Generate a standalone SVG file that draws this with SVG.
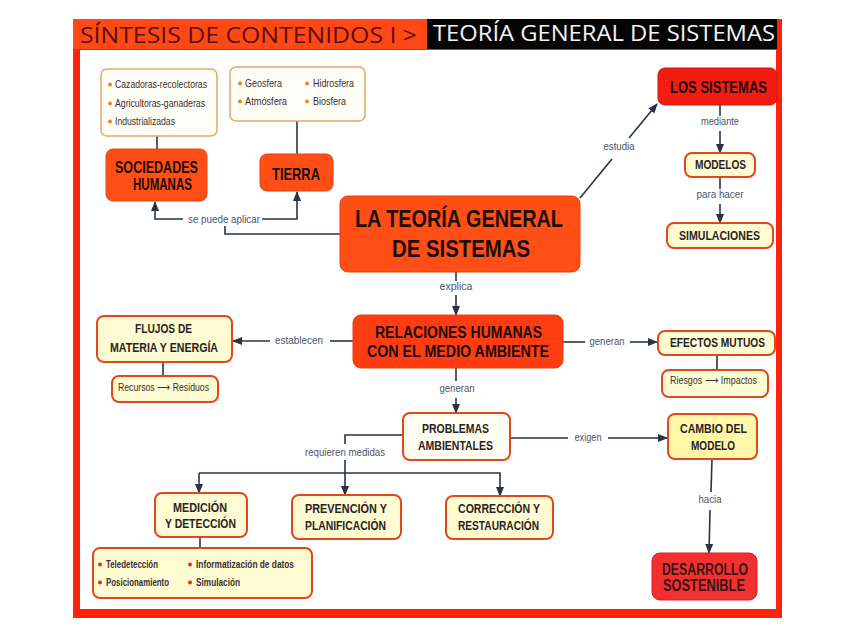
<svg xmlns="http://www.w3.org/2000/svg" width="848" height="636" viewBox="0 0 848 636">
<style>
.main{fill:#ff4e16;stroke:#e8400e;stroke-width:1}
.red{fill:#f21c12;stroke:#d81208;stroke-width:1}
.des{fill:#f23030;stroke:#d82020;stroke-width:1}
.yel{fill:#fffbd2;stroke:#e2481c;stroke-width:2}
.lst{fill:#fffef6;stroke:#eaa468;stroke-width:1.5}
.tb{font-family:"Liberation Sans",Arial,sans-serif;font-weight:bold;fill:#1c0c08;text-anchor:start}
.tm{font-family:"Liberation Sans",Arial,sans-serif;font-weight:bold;fill:#2a2222}
.tl{font-family:"Liberation Sans",Arial,sans-serif;fill:#4a5468;font-size:11px;text-anchor:middle}
.ts{font-family:"Liberation Sans",Arial,sans-serif;fill:#3a3030;font-size:10.5px}
.con{fill:none;stroke:#2b3245;stroke-width:1.6}
.arr{fill:none;stroke:#2b3245;stroke-width:1.6;marker-end:url(#ah)}
.bo{fill:#f08020}
.br{fill:#e82a10}
</style>
<defs>
<marker id="ah" markerUnits="userSpaceOnUse" markerWidth="10" markerHeight="10" viewBox="0 0 10 10" refX="9" refY="5" orient="auto">
<path d="M0,1 L10,5 L0,9 z" fill="#2b3245"/>
</marker>
</defs>
<rect x="0" y="0" width="848" height="636" fill="#ffffff"/>
<g id="frame">
<rect x="73" y="19" width="709" height="599" fill="#ff220a"/>
<rect x="73" y="19" width="354" height="30" fill="#ff4816"/>
<rect x="427" y="19" width="350" height="30" fill="#050505"/>
<rect x="80" y="50" width="696" height="559" fill="#ffffff"/>
<text x="80" y="43" font-family="'Open Sans','Noto Sans',sans-serif" font-size="22" fill="#5a0e0a" textLength="337" lengthAdjust="spacingAndGlyphs">SÍNTESIS DE CONTENIDOS I &gt;</text>
<text x="433" y="41" font-family="'Open Sans','Noto Sans',sans-serif" font-size="22" fill="#f4f4f4" textLength="342" lengthAdjust="spacingAndGlyphs">TEORÍA GENERAL DE SISTEMAS</text>
</g>
<g id="connectors">
<path class="con" d="M157,136 V149"/>
<path class="con" d="M297,121 V154"/>
<path class="con" d="M340,234 H225 V226"/>
<path class="arr" d="M183,219 H155 V202"/>
<path class="arr" d="M262,219 H297 V192"/>
<text class="tl" x="224" y="223" textLength="72" lengthAdjust="spacingAndGlyphs">se puede aplicar</text>
<path class="con" d="M580,198 L612,159"/>
<path class="arr" d="M629,138 L657,104"/>
<text class="tl" x="619" y="150" textLength="31" lengthAdjust="spacingAndGlyphs">estudia</text>
<path class="con" d="M720,105 V116"/>
<text class="tl" x="720" y="125" textLength="38" lengthAdjust="spacingAndGlyphs">mediante</text>
<path class="arr" d="M720,131 V153"/>
<path class="con" d="M720,177 V189"/>
<text class="tl" x="720" y="198" textLength="47" lengthAdjust="spacingAndGlyphs">para hacer</text>
<path class="arr" d="M720,204 V223"/>
<path class="con" d="M456,272 V281"/>
<text class="tl" x="456" y="290" textLength="33" lengthAdjust="spacingAndGlyphs">explica</text>
<path class="arr" d="M456,295 V315"/>
<path class="con" d="M353,341 H330"/>
<text class="tl" x="299" y="344" textLength="48" lengthAdjust="spacingAndGlyphs">establecen</text>
<path class="arr" d="M270,341 H233"/>
<path class="con" d="M563,342 H585"/>
<text class="tl" x="607" y="345" textLength="35" lengthAdjust="spacingAndGlyphs">generan</text>
<path class="arr" d="M630,342 H657"/>
<path class="con" d="M717,355 V370"/>
<path class="con" d="M163,362 V376"/>
<path class="con" d="M456,368 V381"/>
<text class="tl" x="457" y="392" textLength="35" lengthAdjust="spacingAndGlyphs">generan</text>
<path class="arr" d="M456,398 V413"/>
<path class="con" d="M510,438 H568"/>
<text class="tl" x="588" y="441" textLength="27" lengthAdjust="spacingAndGlyphs">exigen</text>
<path class="arr" d="M608,438 H667"/>
<path class="con" d="M403,435 H345 V444"/>
<text class="tl" x="345" y="456" textLength="80" lengthAdjust="spacingAndGlyphs">requieren medidas</text>
<path class="arr" d="M345,460 V495"/>
<path class="arr" d="M199,473 H500 V496"/>
<path class="arr" d="M199,473 V493"/>
<path class="con" d="M200,537 V548"/>
<path class="con" d="M712,459 L711,492"/>
<text class="tl" x="710" y="503" textLength="23" lengthAdjust="spacingAndGlyphs">hacia</text>
<path class="arr" d="M710,510 L709,553"/>
</g>
<g id="lista-sociedades">
<rect class="lst" x="101" y="69" width="116" height="67" rx="6"/>
<circle class="bo" cx="110" cy="84.5" r="2"/>
<circle class="bo" cx="110" cy="103.5" r="2"/>
<circle class="bo" cx="110" cy="121.5" r="2"/>
<text class="ts" x="115" y="88" textLength="92" lengthAdjust="spacingAndGlyphs">Cazadoras-recolectoras</text>
<text class="ts" x="115" y="107" textLength="90" lengthAdjust="spacingAndGlyphs">Agricultoras-ganaderas</text>
<text class="ts" x="115" y="125" textLength="60" lengthAdjust="spacingAndGlyphs">Industrializadas</text>
</g>
<g id="lista-tierra">
<rect class="lst" x="230" y="67" width="135" height="54" rx="6"/>
<circle class="bo" cx="240" cy="83.5" r="2"/>
<circle class="bo" cx="240" cy="101.5" r="2"/>
<circle class="bo" cx="307" cy="83.5" r="2"/>
<circle class="bo" cx="307" cy="101.5" r="2"/>
<text class="ts" x="245" y="87" textLength="37" lengthAdjust="spacingAndGlyphs">Geosfera</text>
<text class="ts" x="245" y="105" textLength="42" lengthAdjust="spacingAndGlyphs">Atmósfera</text>
<text class="ts" x="313" y="87" textLength="41" lengthAdjust="spacingAndGlyphs">Hidrosfera</text>
<text class="ts" x="313" y="105" textLength="33" lengthAdjust="spacingAndGlyphs">Biosfera</text>
</g>
<g id="sociedades">
<rect class="main" x="106" y="149" width="101" height="52" rx="7"/>
<text class="tb" x="115" y="173" font-size="16.5" textLength="83" lengthAdjust="spacingAndGlyphs">SOCIEDADES</text>
<text class="tb" x="133" y="190" font-size="16.5" textLength="59" lengthAdjust="spacingAndGlyphs">HUMANAS</text>
</g>
<g id="tierra">
<rect class="main" x="260" y="154" width="73" height="37" rx="7"/>
<text class="tb" x="272" y="180" font-size="16.5" textLength="48" lengthAdjust="spacingAndGlyphs">TIERRA</text>
</g>
<g id="teoria">
<rect class="main" x="340" y="196" width="240" height="76" rx="8"/>
<text class="tb" x="355" y="227" font-size="24" textLength="208" lengthAdjust="spacingAndGlyphs">LA TEORÍA GENERAL</text>
<text class="tb" x="392" y="257" font-size="24" textLength="138" lengthAdjust="spacingAndGlyphs">DE SISTEMAS</text>
</g>
<g id="los-sistemas">
<rect class="red" x="658" y="68" width="119" height="37" rx="7"/>
<text class="tb" x="670" y="93" font-size="17" textLength="97" lengthAdjust="spacingAndGlyphs">LOS SISTEMAS</text>
</g>
<g id="modelos">
<rect class="yel" x="685" y="153" width="70" height="24" rx="7"/>
<text class="tm" x="695" y="169" font-size="13.5" textLength="51" lengthAdjust="spacingAndGlyphs">MODELOS</text>
</g>
<g id="simulaciones">
<rect class="yel" x="667" y="223" width="106" height="25" rx="7"/>
<text class="tm" x="679" y="240" font-size="13.5" textLength="81" lengthAdjust="spacingAndGlyphs">SIMULACIONES</text>
</g>
<g id="flujos">
<rect class="yel" x="97" y="316" width="135" height="46" rx="7"/>
<text class="tm" x="135" y="333" font-size="13.5" textLength="57" lengthAdjust="spacingAndGlyphs">FLUJOS DE</text>
<text class="tm" x="110" y="352" font-size="13.5" textLength="108" lengthAdjust="spacingAndGlyphs">MATERIA Y ENERGÍA</text>
</g>
<g id="recursos">
<rect class="yel" x="112" y="376" width="106" height="26" rx="7"/>
<text class="ts" x="118" y="391" textLength="91" lengthAdjust="spacingAndGlyphs">Recursos ⟶ Residuos</text>
</g>
<g id="relaciones">
<rect class="main" x="353" y="315" width="210" height="53" rx="8" style="fill:#ff3c12"/>
<text class="tb" x="375" y="338" font-size="16" textLength="167" lengthAdjust="spacingAndGlyphs">RELACIONES HUMANAS</text>
<text class="tb" x="367" y="357" font-size="16" textLength="182" lengthAdjust="spacingAndGlyphs">CON EL MEDIO AMBIENTE</text>
</g>
<g id="efectos">
<rect class="yel" x="658" y="331" width="117" height="24" rx="7"/>
<text class="tm" x="670" y="347" font-size="13.5" textLength="95" lengthAdjust="spacingAndGlyphs">EFECTOS MUTUOS</text>
</g>
<g id="riesgos">
<rect class="yel" x="662" y="370" width="106" height="27" rx="7"/>
<text class="ts" x="670" y="384" textLength="87" lengthAdjust="spacingAndGlyphs">Riesgos ⟶ Impactos</text>
</g>
<g id="problemas">
<rect class="yel" x="403" y="413" width="107" height="47" rx="7" style="fill:#fffdf0"/>
<text class="tm" x="422" y="433" font-size="13.5" textLength="67" lengthAdjust="spacingAndGlyphs">PROBLEMAS</text>
<text class="tm" x="418" y="450" font-size="13.5" textLength="75" lengthAdjust="spacingAndGlyphs">AMBIENTALES</text>
</g>
<g id="cambio">
<rect class="yel" x="668" y="414" width="89" height="45" rx="7" style="fill:#fff7a8"/>
<text class="tm" x="680" y="433" font-size="13.5" textLength="67" lengthAdjust="spacingAndGlyphs">CAMBIO DEL</text>
<text class="tm" x="691" y="450" font-size="13.5" textLength="44" lengthAdjust="spacingAndGlyphs">MODELO</text>
</g>
<g id="medicion">
<rect class="yel" x="155" y="493" width="92" height="44" rx="7"/>
<text class="tm" x="173" y="512" font-size="13.5" textLength="54" lengthAdjust="spacingAndGlyphs">MEDICIÓN</text>
<text class="tm" x="165" y="528" font-size="13.5" textLength="71" lengthAdjust="spacingAndGlyphs">Y DETECCIÓN</text>
</g>
<g id="prevencion">
<rect class="yel" x="292" y="495" width="109" height="44" rx="7"/>
<text class="tm" x="305" y="513" font-size="13.5" textLength="82" lengthAdjust="spacingAndGlyphs">PREVENCIÓN Y</text>
<text class="tm" x="305" y="530" font-size="13.5" textLength="81" lengthAdjust="spacingAndGlyphs">PLANIFICACIÓN</text>
</g>
<g id="correccion">
<rect class="yel" x="446" y="496" width="107" height="43" rx="7"/>
<text class="tm" x="458" y="513" font-size="13.5" textLength="82" lengthAdjust="spacingAndGlyphs">CORRECCIÓN Y</text>
<text class="tm" x="458" y="530" font-size="13.5" textLength="81" lengthAdjust="spacingAndGlyphs">RESTAURACIÓN</text>
</g>
<g id="tecnicas">
<rect class="yel" x="93" y="548" width="219" height="50" rx="7"/>
<circle class="br" cx="100" cy="564.5" r="2"/>
<circle class="br" cx="100" cy="582.5" r="2"/>
<circle class="br" cx="190" cy="564.5" r="2"/>
<circle class="br" cx="190" cy="582.5" r="2"/>
<text class="ts" x="106" y="568" font-weight="bold" textLength="52" lengthAdjust="spacingAndGlyphs">Teledetección</text>
<text class="ts" x="106" y="586" font-weight="bold" textLength="63" lengthAdjust="spacingAndGlyphs">Posicionamiento</text>
<text class="ts" x="196" y="568" font-weight="bold" textLength="98" lengthAdjust="spacingAndGlyphs">Informatización de datos</text>
<text class="ts" x="196" y="586" font-weight="bold" textLength="44" lengthAdjust="spacingAndGlyphs">Simulación</text>
</g>
<g id="desarrollo">
<rect class="des" x="652" y="553" width="105" height="47" rx="8"/>
<text class="tb" x="662" y="575" font-size="16" textLength="86" lengthAdjust="spacingAndGlyphs" style="fill:#3a1414">DESARROLLO</text>
<text class="tb" x="663" y="591" font-size="16" textLength="82" lengthAdjust="spacingAndGlyphs" style="fill:#3a1414">SOSTENIBLE</text>
</g>
</svg>
